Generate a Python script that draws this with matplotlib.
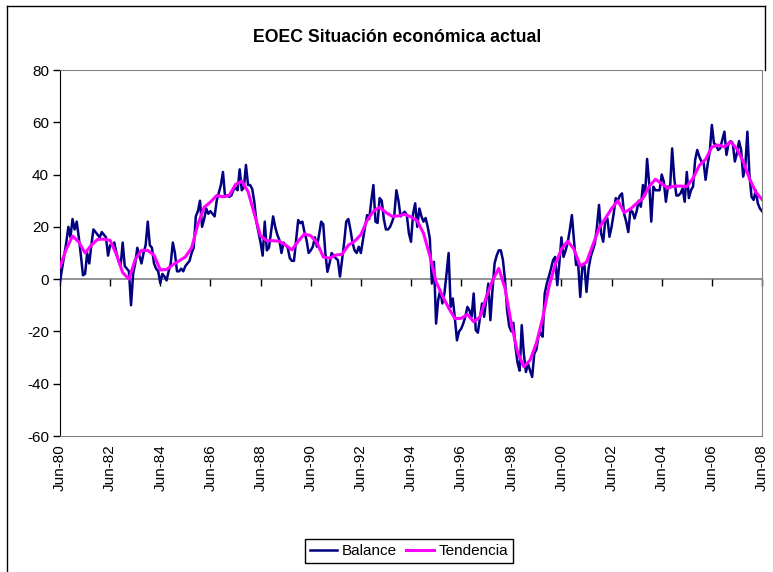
import numpy as np
import matplotlib.pyplot as plt

plt.rcParams['font.family'] = ['Liberation Sans', 'DejaVu Sans']
plt.rcParams['axes.unicode_minus'] = False

# Monthly balance, Jun-80 .. Jun-08 (one row per year, Jun..May)
balance = [
    -1, 4, 9, 14, 20, 16, 23, 19, 22, 16, 9, 1.5,
    2, 10, 6, 13, 19, 18, 17, 16, 18, 17, 16, 9,
    13, 13, 14, 10, 7, 5, 14, 5, 4, 3, -10, 2,
    6, 12, 9, 6, 10, 13, 22, 13, 12, 6, 4, 3,
    -1.5, 2, 1, -0.5, 3, 6, 14, 10, 3, 3, 4, 3,
    5, 6, 7, 10, 12, 24, 26, 30, 20, 23, 27, 25,
    26, 25, 24, 30, 33, 36, 41, 31.5, 32, 31.5, 32, 34,
    35, 34, 42, 34, 35, 43.7, 36, 36, 34.5, 29.6, 22, 18,
    14, 9, 22, 11, 12, 18, 24, 20, 17, 15, 10, 14,
    13, 12, 8, 7, 7, 15, 22.6, 21.4, 22, 18, 15, 10,
    11, 12.4, 16, 12.4, 17, 22, 21, 10, 2.8, 6, 10, 9,
    8, 7.3, 1, 7.3, 14, 22, 23, 19, 14, 11, 10, 12.4,
    10, 15, 20, 24.5, 23, 30, 36, 22, 21.5, 31, 30, 23,
    19, 19, 20, 22, 24.5, 34, 30, 24, 25, 25.8, 24.5, 17.5,
    14.3, 25, 29, 20, 27, 24, 22, 23.4, 20, 15.6, -1.7, 6.6,
    -17, -8, -4.2, -9.3, -5.4, 2, 10, -10.6, -7.4, -15, -23.4, -20,
    -19, -17, -14.4, -10.6, -12, -14.4, -5.5, -19.5, -20.5, -15, -9.3, -14.4,
    -8, -1.7, -15.7, -4.2, 6, 9, 11, 11, 7.3, -0.4, -12, -18,
    -20, -16.7, -26, -32, -35, -17.6, -28.5, -35.5, -32.3, -35, -37.4, -28.5,
    -27, -22, -20.5, -22, -5.5, -1.7, 1, 4, 7.3, 8.5, -2.3, 6,
    16, 8.5, 11, 14, 18.8, 24.5, 15, 5.4, 6, -6.8, 4.7, 5.4,
    -4.9, 4, 8.5, 11, 13.7, 20, 28.4, 17.5, 14.3, 22.6, 23.2, 16.2,
    20, 25, 31, 30, 32, 32.8, 25, 22, 18, 26.4, 25.8, 23.2,
    26, 30, 27.7, 36, 32, 46, 36.7, 22, 35.4, 34, 34, 34,
    40, 37.3, 29.6, 35.4, 35, 50, 38.6, 32, 32, 32.8, 34.7, 29.6,
    41, 31, 34, 35.4, 45.6, 49.4, 46.9, 45, 45, 38, 44, 48.8,
    59, 52, 51.3, 49.4, 50, 53.3, 56.4, 47.5, 52, 52.8, 52, 45,
    48.2, 52.8, 49.4, 39.2, 43, 56.4, 39.8, 31.5, 30.3, 34, 29, 27,
    26,
]

# Trend, read every 3 months from Jun-80
tendencia = [
    4.7, 11.5, 16.5, 14.2, 10, 13, 15.2, 15.3, 14.8, 9.5, 2.5, 0,
    7.5, 11, 11, 9.2, 3.5, 3.7, 5.5, 7, 8.5, 12, 21, 27.5,
    29.5, 32, 31.5, 32, 36.2, 37.5, 33.5, 25, 16.5, 14.7, 14.7, 14.5,
    13, 11.2, 14.5, 17.3, 16.6, 14, 8.5, 8, 9.2, 9.5, 13, 14.5,
    17, 22.5, 26, 27.5, 25.5, 24, 24.2, 24.8, 23.8, 22.3, 17.5, 9,
    -1, -6.3, -11, -15.1, -15, -13.5, -16.3, -14.5, -7, -0.5, 4.1, -3.5,
    -17, -28, -33.5, -31, -24.5, -15, -3, 5.5, 11.5, 14.5, 11.5, 5,
    6.5, 13, 19.5, 23.2, 27, 30, 25.5, 26.8, 29, 30.9, 35.5, 38.2,
    36.5, 34.8, 35.6, 35.6, 35.4, 38.6, 43.5, 45.8, 50.5, 51.3, 50.6, 52.5,
    49.8, 45, 38.5, 33.3, 30.5,
]

tick_labels = ["Jun-%02d" % (y % 100) for y in range(1980, 2009, 2)]

W, H = 773, 572
fig = plt.figure(figsize=(W / 100, H / 100), dpi=100)
ax = fig.add_axes([60 / W, 1 - 436 / H, 702 / W, 366 / H])

months = np.arange(len(balance))
ax.plot(months, balance, color='#000080', lw=1.8, zorder=3, label='Balance')
ax.plot(np.arange(len(tendencia)) * 3, tendencia, color='#ff00ff', lw=2.2,
        zorder=4, label='Tendencia')

ax.set_xlim(0, 336)
ax.set_ylim(-60, 80)
ax.set_yticks(range(-60, 81, 20))
ax.tick_params(axis='y', direction='out', length=5, width=1, labelsize=11, pad=3)

# x axis crosses at zero, labels stay at the bottom
ax.axhline(0, color='#808080', lw=1.2, zorder=2)
xt = np.arange(0, 337, 24)
ax.plot(xt, np.zeros(len(xt)), ls='none', marker=3, ms=5, mew=1, color='k',
        zorder=2, clip_on=False)
ax.set_xticks(xt)
ax.set_xticklabels(tick_labels, rotation=90, fontsize=11)
ax.tick_params(axis='x', length=0, pad=6)

for s in ['top', 'right', 'bottom']:
    ax.spines[s].set_color('#808080')
ax.spines['left'].set_color('k')

fig.text(397.5 / W, 1 - 38 / H, 'EOEC Situación económica actual',
         ha='center', va='center', fontsize=12.7, fontweight='bold')

leg = fig.legend(loc='center', bbox_to_anchor=(409 / W, 1 - 551 / H), ncol=2,
                 fontsize=11, frameon=True, fancybox=False, framealpha=1,
                 edgecolor='k', handlelength=1.8, handletextpad=0.3,
                 columnspacing=0.6, borderpad=0.35)
leg.get_frame().set_linewidth(1)

# chart frame
fig.add_artist(plt.Line2D([7 / W, 7 / W], [0, 1 - 6 / H], color='k', lw=1))
fig.add_artist(plt.Line2D([7 / W, 765 / W], [1 - 6 / H, 1 - 6 / H], color='k', lw=1))
fig.add_artist(plt.Line2D([765 / W, 765 / W], [1 - 6 / H, 1 - 70 / H], color='k', lw=1))

fig.savefig('out.png', dpi=100)
